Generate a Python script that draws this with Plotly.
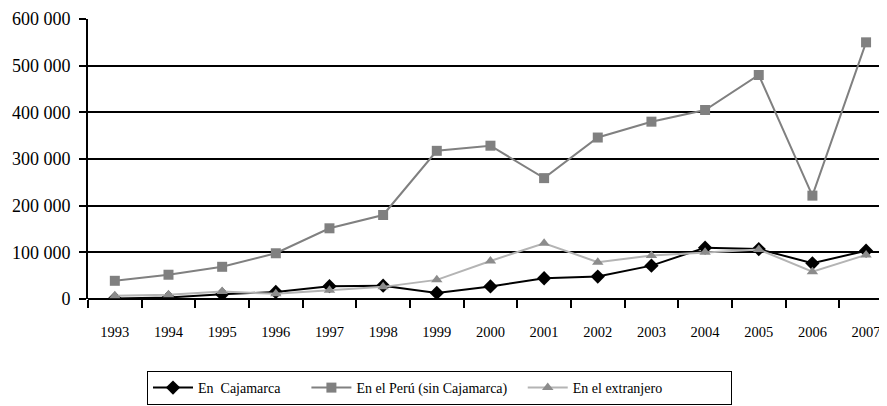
import plotly.graph_objects as go

years = ["1993", "1994", "1995", "1996", "1997", "1998", "1999", "2000",
         "2001", "2002", "2003", "2004", "2005", "2006", "2007"]
cajamarca = [1000, 3000, 10000, 15000, 27500, 28500, 13000, 27000,
             44500, 48000, 71500, 110000, 107000, 76500, 103500]
peru = [39000, 52000, 69000, 98000, 151500, 180000, 317500, 328500,
        259000, 346000, 380000, 405000, 480000, 221500, 550000]
extranjero = [7000, 9000, 16000, 11000, 19000, 26000, 41000, 81500,
              119500, 79000, 93000, 100000, 106000, 58500, 94500]
ytick_vals = [0, 100000, 200000, 300000, 400000, 500000, 600000]
ytick_text = ["0", "100 000", "200 000", "300 000", "400 000", "500 000", "600 000"]
names = ["En  Cajamarca", "En el Perú (sin Cajamarca)", "En el extranjero"]

NB = "\u00a0"
W, H = 879, 398
fig = go.Figure()
fig.add_trace(go.Scatter(x=years, y=cajamarca, name=names[0] + NB * 6, mode="lines+markers",
                         line=dict(color="black", width=2),
                         marker=dict(symbol="diamond", size=11, color="black")))
fig.add_trace(go.Scatter(x=years, y=peru, name=names[1] + NB * 3, mode="lines+markers",
                         line=dict(color="#808080", width=2),
                         marker=dict(symbol="square", size=10, color="#808080")))
fig.add_trace(go.Scatter(x=years, y=extranjero, name=names[2] + NB * 18, mode="lines+markers",
                         line=dict(color="#b4b4b4", width=2),
                         marker=dict(symbol="triangle-up", size=10, color="#8c8c8c")))

fig.update_layout(
    width=W, height=H,
    margin=dict(l=80, r=0, t=11, b=107, autoexpand=False),
    paper_bgcolor="white", plot_bgcolor="white",
    font=dict(family="Liberation Serif", color="black", size=13),
    showlegend=True,
    legend=dict(orientation="h", x=(147 - 8) / W, xref="container",
                y=1 - (371 - 8) / H, yref="container", xanchor="left", yanchor="top",
                bordercolor="black", borderwidth=1, font=dict(size=14),
                itemwidth=40, traceorder="normal"),
)
fig.update_xaxes(type="category", range=[-0.5, 14.39], showgrid=False,
                 tickson="boundaries", ticks="outside", ticklen=8, tickwidth=2,
                 tickcolor="black", showline=False, zeroline=False,
                 tickfont=dict(size=14.5), ticklabelstandoff=22)
fig.update_yaxes(range=[0, 600000], tickvals=ytick_vals, ticktext=ytick_text,
                 showgrid=True, gridcolor="black", gridwidth=2,
                 showline=True, linecolor="black", linewidth=2,
                 ticks="outside", ticklen=7, tickwidth=2, tickcolor="black",
                 zeroline=True, zerolinecolor="black", zerolinewidth=2,
                 tickfont=dict(size=18), ticklabelstandoff=5)

fig.write_html("out.html")
